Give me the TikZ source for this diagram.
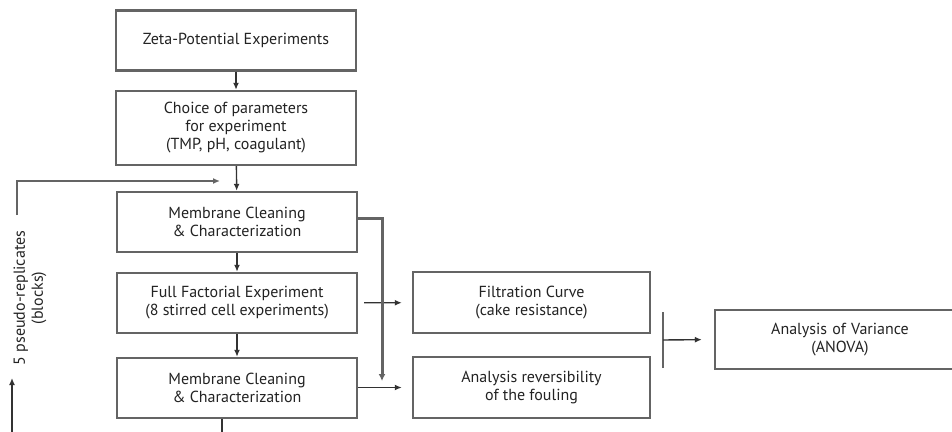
\documentclass[tikz,border=0pt]{standalone}
\usepackage{fontspec}
\setmainfont{PT Sans}
\usetikzlibrary{positioning,arrows.meta}

\definecolor{boxgray}{RGB}{100,100,100}
\definecolor{linegray}{RGB}{50,50,50}
\definecolor{textgray}{RGB}{35,35,35}

\tikzset{
  box/.style={draw=boxgray, line width=2.4pt, minimum width=240pt, minimum height=60pt,
    align=center, text=textgray, inner sep=0pt, font=\fontsize{16}{18}\selectfont},
  link/.style={draw=linegray, line width=1.4pt, -{Latex[length=7pt,width=6pt]}},
  feed/.style={draw=boxgray, line width=3pt, -{Latex[length=7pt,width=7pt]}},
}

\begin{document}
\begin{tikzpicture}[x=1pt,y=-1pt]
\clip (0,0) rectangle (952,431);
\fill[white] (0,0) rectangle (952,431);

% main column
\node[box] (zeta) at (236,40.5) {Zeta-Potential Experiments};
\node[box, minimum height=74pt] (choice) at (236,128) {Choice of parameters\\for experiment\\(TMP, pH, coagulant)};
\node[box] (clean1) at (237,222) {Membrane Cleaning\\\& Characterization};
\node[box] (factorial) at (237,303) {Full Factorial Experiment\\(8 stirred cell experiments)};
\node[box] (clean2) at (237,388) {Membrane Cleaning\\\& Characterization};

% results
\node[box, minimum width=237pt, minimum height=61pt] (filtration) at (531.5,302.5) {Filtration Curve\\(cake resistance)};
\node[box, minimum width=237pt, minimum height=61pt] (fouling) at (531.5,387.5) {Analysis reversibility\\of the fouling};
\node[box, minimum width=250pt, minimum height=59pt, text width=230pt] (anova) at (840,339.5) {Analysis of Variance\\(ANOVA)};

\draw[link] (zeta) -- (choice);
\draw[link] (choice) -- (clean1);
\draw[link] (clean1) -- (factorial);
\draw[link] (factorial) -- (clean2);

\draw[link, shorten <=6pt, shorten >=10pt] (factorial) -- (filtration);
\draw[link, shorten >=10pt] (clean2.east |- fouling.west) -- (fouling);
\draw[feed] (clean1.east |- 0,218) -| (382,381);

% joining bar
\coordinate (bar) at (663,340);
\draw[boxgray, line width=2pt] ([yshift=-28pt]bar) -- ([yshift=28pt]bar);
\draw[link, shorten >=12pt] (bar) -- (anova.west);

% replicate loop
\coordinate (join) at (232,181);
\coordinate (loopin) at (12,378);
\coordinate (loopout) at (17,215);
\draw[link] ([xshift=-15pt]clean2.south) -- ++(0,30) -| (loopin);
\node[rotate=90, align=center, text=textgray, font=\fontsize{16}{18}\selectfont] (blocks) at (30,298) {5 pseudo-replicates\\(blocks)};
\draw[link, draw=boxgray, line width=2pt, shorten >=12pt] (loopout) |- (join);

\end{tikzpicture}
\end{document}
